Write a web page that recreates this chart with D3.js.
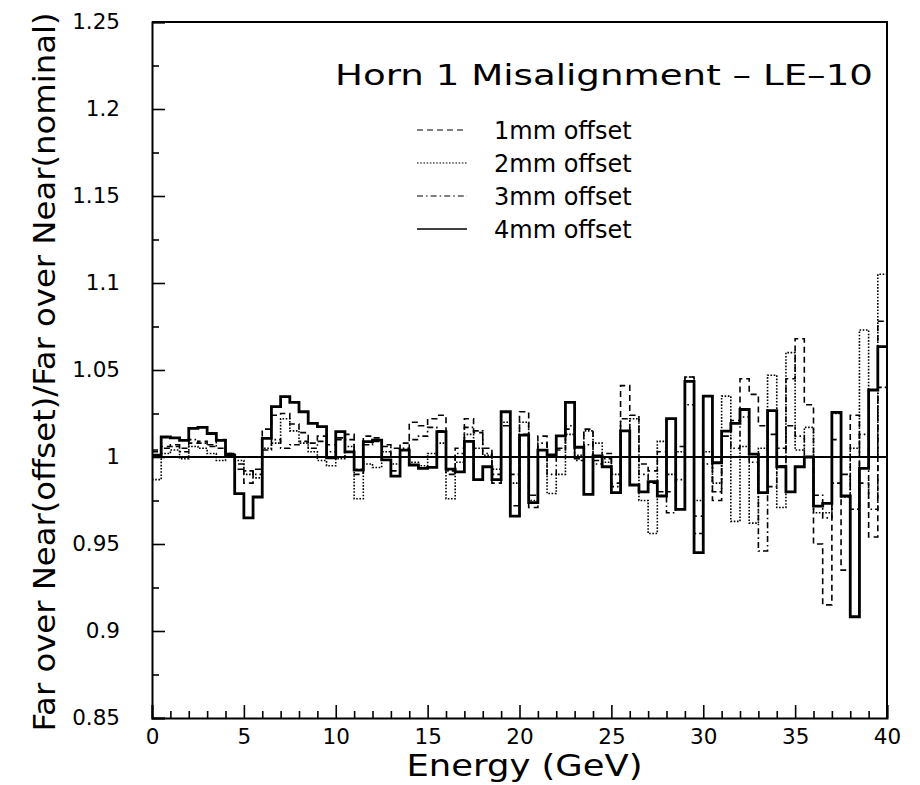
<!DOCTYPE html>
<html><head><meta charset="utf-8">
<script src="https://cdn.jsdelivr.net/npm/d3@7"></script>
<style>body{margin:0;background:#fff}svg{display:block}</style>
</head><body>
<script>
// ---- data (bin lower edges, 0.5 GeV wide bins from 0 to 40 GeV) ----
const binEdges = d3.range(0, 40, 0.5);
const offset1mm = [1.003,1.006,1.007,1.005,1.008,1.009,1.006,1.010,1.002,0.996,
 0.985,0.993,1.016,1.024,1.025,1.019,1.014,1.008,1.012,1.007,
 1.011,1.013,0.990,1.012,1.011,1.007,0.992,1.008,1.020,1.018,
 1.022,1.024,0.990,1.005,1.022,1.014,1.005,0.985,1.026,0.972,
 1.026,0.971,1.012,1.000,1.004,1.016,0.999,1.016,0.998,1.002,
 0.985,1.041,1.024,0.996,0.992,1.003,0.980,1.006,1.046,0.966,
 1.000,0.975,1.015,1.021,1.045,1.036,1.018,1.013,0.995,1.045,
 1.068,1.030,0.950,0.915,1.010,0.935,1.024,0.985,0.954,1.078];
const offset2mm = [0.987,1.002,1.004,0.999,1.006,1.005,1.002,0.998,1.000,0.998,
 0.990,0.988,1.005,1.008,1.022,1.015,1.008,1.003,0.998,0.995,
 0.999,1.006,0.976,0.996,0.994,1.003,0.996,1.004,0.997,0.995,
 1.002,1.008,0.976,0.997,1.013,1.005,1.001,0.993,1.020,0.985,
 1.020,0.975,1.004,0.979,0.990,1.013,1.001,1.015,1.008,0.997,
 0.990,1.015,1.022,0.975,0.956,1.009,0.990,1.003,1.046,0.975,
 1.003,0.985,1.035,0.963,1.006,0.962,1.005,1.047,0.971,1.060,
 1.004,1.017,0.968,0.968,1.025,0.977,1.005,1.073,1.000,1.105];
const offset3mm = [1.004,1.005,1.006,1.003,1.010,1.008,1.007,1.005,1.002,0.993,
 0.992,0.990,1.004,1.010,1.005,1.007,1.009,1.005,1.009,1.003,
 1.010,1.010,0.993,1.007,1.009,1.006,1.005,1.005,1.010,1.012,
 1.017,1.015,0.992,1.002,1.017,1.015,1.002,0.990,1.018,0.990,
 1.013,0.978,1.008,0.990,1.005,1.018,0.998,1.007,0.996,0.999,
 0.983,1.022,1.000,0.990,0.985,0.980,0.968,0.987,1.030,0.956,
 0.996,0.980,1.012,1.005,1.023,0.997,0.946,0.983,1.005,1.018,
 1.012,1.000,0.978,0.965,0.985,0.990,0.970,1.013,0.970,1.040];
const offset4mm = [1.001,1.0115,1.011,1.0095,1.0165,1.017,1.0135,1.0095,1.001,0.979,
 0.965,0.977,1.0107,1.029,1.0347,1.0314,1.026,1.0193,1.0174,0.9995,
 1.0146,1.003,0.9925,1.0088,1.0097,0.9983,0.989,1.004,0.9954,0.9935,
 0.994,1.0146,0.993,0.9915,1.009,0.987,0.9944,0.987,1.026,0.966,
 1.0126,0.9738,1.004,1.0012,1.0121,1.0314,1.0056,0.9785,1.0006,0.9944,
 0.9795,1.015,0.9839,0.980,0.9858,0.9776,1.022,0.9699,1.0435,0.9451,
 1.035,0.9967,1.0149,1.0193,1.0273,1.0017,0.9795,1.0266,0.9944,0.980,
 0.9944,1.000,0.9718,0.9734,1.0257,0.9776,0.9082,0.9935,1.0385,1.0634];
const seriesNames = ["1mm offset","2mm offset","3mm offset","4mm offset"];
const yTicks = [0.85,0.9,0.95,1,1.05,1.1,1.15,1.2,1.25];
const yTickLabels = ["0.85","0.9","0.95","1","1.05","1.1","1.15","1.2","1.25"];
const xTicks = [0,5,10,15,20,25,30,35,40];
const titleText = "Horn 1 Misalignment – LE–10";
const xTitle = "Energy (GeV)";
const yTitle = "Far over Near(offset)/Far over Near(nominal)";

// ---- layout ----
const W = 920, H = 785;
const L = 152, R = 887, T = 22, B = 718;
const svg = d3.select("body").append("svg").attr("width", W).attr("height", H);
const x = d3.scaleLinear().domain([0, 40]).range([L, R]);
const y = d3.scaleLinear().domain([0.85, 1.25]).range([B, T]);
const font = "DejaVu Sans, Liberation Sans, sans-serif";

const styles = [
  {dash: "6,4", w: 1.6},
  {dash: "1.6,1.6", w: 1.6},
  {dash: "6,3,1.6,3", w: 1.6},
  {dash: null, w: 2.8}
];
const allSeries = [offset1mm, offset2mm, offset3mm, offset4mm];

const line = d3.line().x(d => x(d[0])).y(d => y(d[1])).curve(d3.curveStepAfter);
allSeries.forEach((vals, i) => {
  const pts = binEdges.map((e, k) => [e, vals[k]]);
  pts.push([40, vals[vals.length - 1]]);
  const p = svg.append("path").attr("d", line(pts)).attr("fill", "none")
    .attr("stroke", "#000").attr("stroke-width", styles[i].w);
  if (styles[i].dash) p.attr("stroke-dasharray", styles[i].dash);
});

// reference line at 1
svg.append("line").attr("x1", x(0)).attr("x2", x(40)).attr("y1", y(1)).attr("y2", y(1))
  .attr("stroke", "#000").attr("stroke-width", 2.2);

// axes
const yMinor = d3.range(0.875, 1.25, 0.05);
const gy = svg.append("g").attr("transform", `translate(${L},0)`)
  .call(d3.axisLeft(y).tickValues(yTicks).tickFormat((d, i) => yTickLabels[i]).tickSize(-13).tickPadding(32));
svg.append("g").attr("transform", `translate(${L},0)`)
  .call(d3.axisLeft(y).tickValues(yMinor).tickFormat("").tickSize(-7)).select(".domain").remove();
const gx = svg.append("g").attr("transform", `translate(0,${B})`)
  .call(d3.axisBottom(x).tickValues(xTicks).tickFormat(d3.format("d")).tickSize(-13).tickPadding(11));
svg.append("g").attr("transform", `translate(0,${B})`)
  .call(d3.axisBottom(x).tickValues(d3.range(1, 40, 1).filter(v => v % 5 !== 0)).tickFormat("").tickSize(-7))
  .select(".domain").remove();
svg.selectAll(".domain").attr("stroke-width", 2);
svg.selectAll(".tick line").attr("stroke-width", 1.6);
svg.selectAll(".tick text").attr("font-family", font).attr("font-size", 21.5).attr("fill", "#000");

// frame top/right
svg.append("path").attr("d", `M${L},${T}H${R}V${B}`).attr("fill", "none")
  .attr("stroke", "#000").attr("stroke-width", 2);

// titles
svg.append("text").attr("x", (L + R) / 2 + 5).attr("y", 776).attr("text-anchor", "middle")
  .attr("font-family", font).attr("font-size", 31).attr("textLength", 236)
  .attr("lengthAdjust", "spacingAndGlyphs").text(xTitle);
svg.append("text").attr("transform", "translate(55,372) rotate(-90)").attr("text-anchor", "middle")
  .attr("font-family", font).attr("font-size", 31).attr("textLength", 719)
  .attr("lengthAdjust", "spacingAndGlyphs").text(yTitle);
svg.append("text").attr("x", 335).attr("y", 85)
  .attr("font-family", font).attr("font-size", 28).attr("textLength", 538)
  .attr("lengthAdjust", "spacingAndGlyphs").text(titleText);

// legend
const legY = [130, 163, 196, 229];
seriesNames.forEach((name, i) => {
  const l = svg.append("line").attr("x1", 417).attr("x2", 467).attr("y1", legY[i]).attr("y2", legY[i])
    .attr("stroke", "#000").attr("stroke-width", i === 3 ? 1.5 : 1.2);
  if (styles[i].dash) l.attr("stroke-dasharray", styles[i].dash);
  svg.append("text").attr("x", 494).attr("y", legY[i] + 8.5)
    .attr("font-family", font).attr("font-size", 24).text(name);
});
</script>
</body></html>
